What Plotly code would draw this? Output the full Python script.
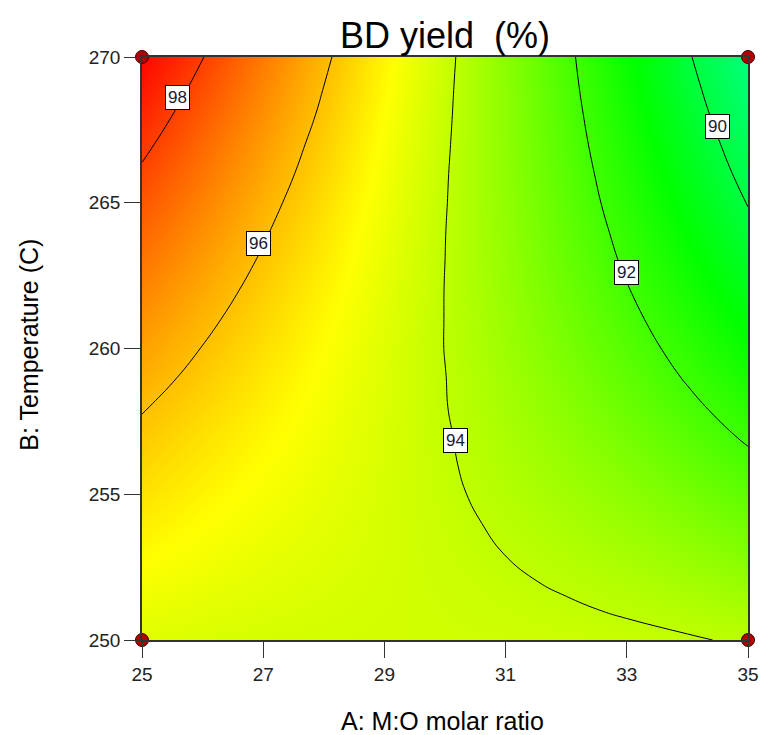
import plotly.graph_objects as go

# Response surface of BD yield (%) on a grid of M:O molar ratio x temperature
molar_ratio = [25, 26, 27, 28, 29, 30, 31, 32, 33, 34, 35]
temperature = [250, 251, 252, 253, 254, 255, 256, 257, 258, 259, 260,
               261, 262, 263, 264, 265, 266, 267, 268, 269, 270]
bd_yield = [
    [94.50, 94.40, 94.34, 94.30, 94.28, 94.26, 94.24, 94.20, 94.14, 94.05, 93.93],
    [94.69, 94.56, 94.45, 94.37, 94.30, 94.24, 94.16, 94.07, 93.95, 93.81, 93.64],
    [94.88, 94.71, 94.56, 94.44, 94.32, 94.20, 94.08, 93.93, 93.77, 93.57, 93.34],
    [95.07, 94.86, 94.67, 94.50, 94.34, 94.17, 93.99, 93.80, 93.58, 93.33, 93.04],
    [95.26, 95.01, 94.78, 94.57, 94.35, 94.14, 93.91, 93.66, 93.39, 93.08, 92.75],
    [95.46, 95.16, 94.89, 94.63, 94.37, 94.10, 93.82, 93.52, 93.20, 92.85, 92.46],
    [95.65, 95.32, 95.00, 94.70, 94.39, 94.07, 93.74, 93.39, 93.02, 92.61, 92.18],
    [95.85, 95.47, 95.12, 94.77, 94.41, 94.05, 93.67, 93.26, 92.84, 92.38, 91.90],
    [96.05, 95.64, 95.24, 94.84, 94.44, 94.02, 93.59, 93.14, 92.66, 92.16, 91.63],
    [96.26, 95.81, 95.36, 94.92, 94.47, 94.01, 93.53, 93.02, 92.50, 91.94, 91.36],
    [96.47, 95.98, 95.49, 95.00, 94.50, 93.99, 93.46, 92.91, 92.34, 91.74, 91.11],
    [96.70, 96.16, 95.63, 95.09, 94.55, 93.99, 93.41, 92.81, 92.19, 91.54, 90.86],
    [96.92, 96.35, 95.77, 95.19, 94.60, 93.99, 93.36, 92.71, 92.04, 91.35, 90.63],
    [97.16, 96.54, 95.92, 95.29, 94.65, 94.00, 93.32, 92.62, 91.90, 91.16, 90.40],
    [97.40, 96.74, 96.07, 95.40, 94.71, 94.01, 93.29, 92.54, 91.78, 90.99, 90.18],
    [97.65, 96.94, 96.23, 95.51, 94.78, 94.03, 93.26, 92.47, 91.65, 90.82, 89.97],
    [97.90, 97.15, 96.40, 95.63, 94.85, 94.05, 93.23, 92.40, 91.54, 90.66, 89.77],
    [98.16, 97.36, 96.56, 95.75, 94.92, 94.08, 93.21, 92.33, 91.43, 90.51, 89.58],
    [98.42, 97.58, 96.74, 95.88, 95.00, 94.11, 93.20, 92.27, 91.32, 90.36, 89.39],
    [98.68, 97.80, 96.91, 96.00, 95.08, 94.14, 93.19, 92.21, 91.22, 90.22, 89.21],
    [98.94, 98.02, 97.08, 96.13, 95.16, 94.18, 93.17, 92.16, 91.12, 90.08, 89.03],
]

# Design (factorial corner) points
design_ratio = [25, 25, 35, 35]
design_temp = [250, 270, 250, 270]

# Contour levels and where their value boxes sit
contour_levels = [98, 96, 94, 92, 90]
label_spots = [(25.58, 268.62), (26.93, 263.6), (30.18, 256.86), (32.99, 262.61), (34.49, 267.6)]

x_ticks = [25, 27, 29, 31, 33, 35]
y_ticks = [250, 255, 260, 265, 270]

FONT = "Arial, Liberation Sans, sans-serif"

fig = go.Figure()
fig.add_trace(go.Contour(
    x=molar_ratio, y=temperature, z=bd_yield,
    zmin=87, zmax=99, zauto=False,
    colorscale=[[0, "#00ffff"], [1 / 3, "#00ff00"], [2 / 3, "#ffff00"], [1, "#ff0000"]],
    contours=dict(start=min(contour_levels), end=max(contour_levels), size=2, coloring="heatmap"),
    line=dict(color="black", width=1, smoothing=1.3),
    showscale=False, hoverinfo="skip",
))
fig.add_trace(go.Scatter(
    x=design_ratio, y=design_temp, mode="markers",
    marker=dict(size=13, color="#b00000", line=dict(color="#3a0000", width=1)),
    cliponaxis=False, showlegend=False,
))
for lev, (xa, yb) in zip(contour_levels, label_spots):
    fig.add_annotation(x=xa, y=yb, text=str(lev), showarrow=False, bgcolor="white",
                       bordercolor="black", borderwidth=1, borderpad=2,
                       font=dict(family=FONT, size=17, color="#1a1a2e"))

fig.update_layout(
    width=771, height=735, margin=dict(l=142, r=14, t=57, b=95),
    paper_bgcolor="white", plot_bgcolor="white", showlegend=False,
    title=dict(text="BD yield\u00a0 (%)", x=0.5, xref="paper", y=1 - 35 / 735, yref="container",
               yanchor="middle", xanchor="center",
               font=dict(family=FONT, size=36, color="black")),
)
axis_common = dict(showgrid=False, zeroline=False, ticks="outside", ticklen=16, tickwidth=1,
                   tickcolor="#333", showline=True, linecolor="#333", linewidth=1.5, mirror=True,
                   tickfont=dict(family=FONT, size=19, color="#222"))
fig.update_xaxes(range=[25, 35], tickvals=x_ticks, **axis_common)
fig.update_yaxes(range=[250, 270], tickvals=y_ticks, **axis_common)

fig.add_annotation(x=(447 - 142) / 615, y=-81 / 583, xref="paper", yref="paper",
                   text="A: M:O molar ratio", showarrow=False, yanchor="middle",
                   font=dict(family=FONT, size=25, color="black"))
fig.add_annotation(x=-115 / 615, y=(640 - 345) / 583, xref="paper", yref="paper",
                   text="B: Temperature (C)", showarrow=False, textangle=-90,
                   xanchor="center", yanchor="middle",
                   font=dict(family=FONT, size=25, color="black"))

fig.write_html("out.html")
